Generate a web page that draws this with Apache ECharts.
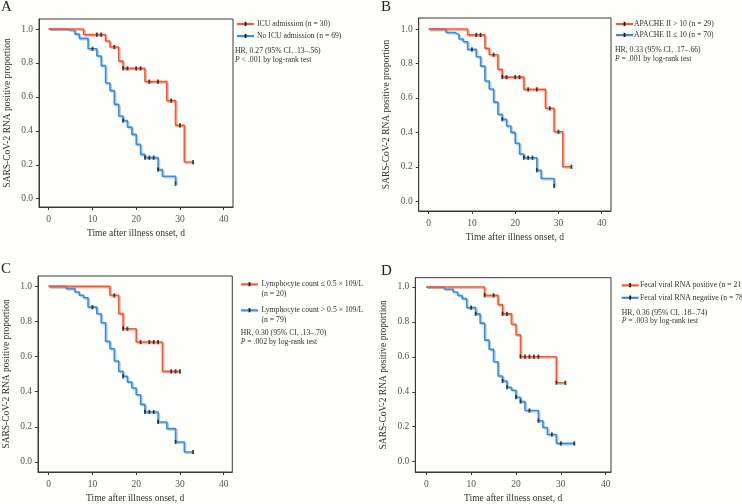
<!DOCTYPE html>
<html><head><meta charset="utf-8">
<script src="https://cdn.jsdelivr.net/npm/echarts@6/dist/echarts.min.js"></script>
<style>html,body{margin:0;padding:0;background:#fefefa}#c{width:742px;height:504px}</style>
</head><body><div id="c"></div>
<script>
// ---------- data ----------
const xTickValues = [0, 10, 20, 30, 40];
const yTickValues = [0, 0.2, 0.4, 0.6, 0.8, 1.0];
const xAxisTitle = 'Time after illness onset, d';
const yAxisTitle = 'SARS-CoV-2 RNA positive proportion';
const panelLetters = ['A', 'B', 'C', 'D'];

// Panel A
const aRedName = 'ICU admission (n = 30)';
const aRedTime = [0, 8, 13, 14, 16, 17, 22, 27, 29, 31, 33];
const aRedSurv = [1, 0.967, 0.929, 0.894, 0.811, 0.768, 0.690, 0.578, 0.432, 0.216, 0.216];
const aRedCensor = [11, 12, 15, 17, 18, 20, 21, 23, 25, 28, 30, 33];
const aBlueName = 'No ICU admission (n = 69)';
const aBlueTime = [0, 4, 6, 7, 9, 11, 12, 13, 14, 15, 16, 17, 18, 19, 20, 21, 22, 25, 26, 29];
const aBlueSurv = [1, 0.99, 0.97, 0.945, 0.884, 0.841, 0.784, 0.682, 0.637, 0.556, 0.487, 0.460, 0.422, 0.379, 0.320, 0.261, 0.242, 0.171, 0.132, 0.088];
const aBlueCensor = [10, 17, 22, 23, 24, 25, 29];
const aStats = ['HR, 0.27 (95% CI, .13–.56)', '{i|P} < .001 by log-rank test'];

// Panel B
const bRedName = 'APACHE II > 10 (n = 29)';
const bRedTime = [0, 9, 13, 14, 16, 17, 22, 27, 29, 31, 33];
const bRedSurv = [1, 0.966, 0.888, 0.851, 0.766, 0.721, 0.650, 0.540, 0.404, 0.201, 0.201];
const bRedCensor = [11, 12, 15, 17, 18, 20, 21, 23, 25, 28, 30, 33];
const bBlueName = 'APACHE II ≤ 10 (n = 70)';
const bBlueTime = [0, 4, 6, 7, 8, 9, 11, 12, 13, 14, 15, 16, 17, 18, 19, 20, 21, 22, 25, 26, 29];
const bBlueSurv = [1, 0.98, 0.969, 0.942, 0.926, 0.882, 0.839, 0.785, 0.698, 0.652, 0.576, 0.505, 0.476, 0.437, 0.400, 0.337, 0.275, 0.253, 0.180, 0.133, 0.089];
const bBlueCensor = [10, 17, 22, 23, 24, 25, 29];
const bStats = ['HR, 0.33 (95% CI, .17–.66)', '{i|P} = .001 by log-rank test'];

// Panel C
const cRedName = ['Lymphocyte count ≤ 0.5 × 109/L', '(n = 20)'];
const cRedTime = [0, 14, 16, 17, 20, 26, 30];
const cRedSurv = [1, 0.949, 0.845, 0.759, 0.683, 0.516, 0.516];
const cRedCensor = [15, 17, 18, 21, 23, 24, 25, 28, 29, 30];
const cBlueName = ['Lymphocyte count > 0.5 × 109/L', '(n = 79)'];
const cBlueTime = [0, 4, 6, 7, 8, 9, 11, 12, 13, 14, 15, 16, 17, 18, 19, 20, 21, 22, 25, 27, 29, 31, 33];
const cBlueSurv = [1, 0.987, 0.968, 0.949, 0.935, 0.882, 0.844, 0.793, 0.687, 0.645, 0.575, 0.516, 0.488, 0.455, 0.421, 0.383, 0.328, 0.285, 0.228, 0.190, 0.114, 0.057, 0.057];
const cBlueCensor = [10, 17, 22, 23, 24, 25, 29, 33];
const cStats = ['HR, 0.30 (95% CI, .13–.70)', '{i|P} = .002 by log-rank test'];

// Panel D
const dRedName = 'Fecal viral RNA positive (n = 21)';
const dRedTime = [0, 13, 16, 17, 19, 20, 21, 29, 31];
const dRedSurv = [1, 0.952, 0.899, 0.846, 0.787, 0.726, 0.601, 0.452, 0.452];
const dRedCensor = [13, 15, 17, 18, 21, 22, 23, 24, 25, 29, 31];
const dBlueName = 'Fecal viral RNA negative (n = 78)';
const dBlueTime = [0, 4, 6, 7, 8, 9, 11, 12, 13, 14, 15, 16, 17, 18, 19, 20, 21, 22, 25, 26, 27, 29, 33];
const dBlueSurv = [1, 0.987, 0.971, 0.951, 0.933, 0.882, 0.846, 0.793, 0.696, 0.643, 0.572, 0.490, 0.462, 0.426, 0.409, 0.369, 0.344, 0.293, 0.234, 0.196, 0.156, 0.105, 0.105];
const dBlueCensor = [10, 11, 17, 18, 20, 21, 23, 25, 28, 30, 33];
const dStats = ['HR, 0.36 (95% CI, .18–.74)', '{i|P} = .003 by log-rank test'];

// ---------- layout / style ----------
const RED = '#ec5b3b', RED_SH = 'rgba(240,110,80,0.5)';
const BLUE = '#3b8dd4', BLUE_SH = 'rgba(90,160,225,0.5)';
const FONT = '"Liberation Serif", "DejaVu Serif", serif';
const LEG_FS = 7.7;

const panels = [
  { grid: {left: 39, top: 19, width: 194, height: 188}, x: [-2.22, 42.13], y: [-0.049, 1.059],
    red: {t: aRedTime, s: aRedSurv, c: aRedCensor, name: [aRedName]},
    blue: {t: aBlueTime, s: aBlueSurv, c: aBlueCensor, name: [aBlueName]},
    stats: aStats, letter: [1, 8], leg: {x: 237, y1: 24, y2: 36, tx: 257, hx: 235, h1: 51, h2: 60} },
  { grid: {left: 418.7, top: 18, width: 192.3, height: 193}, x: [-2.31, 42.15], y: [-0.056, 1.064],
    red: {t: bRedTime, s: bRedSurv, c: bRedCensor, name: [bRedName]},
    blue: {t: bBlueTime, s: bBlueSurv, c: bBlueCensor, name: [bBlueName]},
    stats: bStats, letter: [381, 8], leg: {x: 616, y1: 24, y2: 35, tx: 634, hx: 615, h1: 50, h2: 59} },
  { grid: {left: 37.3, top: 276, width: 195, height: 196}, x: [-2.44, 41.96], y: [-0.057, 1.059],
    red: {t: cRedTime, s: cRedSurv, c: cRedCensor, name: cRedName},
    blue: {t: cBlueTime, s: cBlueSurv, c: cBlueCensor, name: cBlueName},
    stats: cStats, letter: [1, 270], leg: {x: 241, y1: 284.3, y2: 310.3, tx: 261.5, hx: 240.7, h1: 332.7, h2: 342} },
  { grid: {left: 415.3, top: 277.7, width: 195.7, height: 195}, x: [-2.45, 41.18], y: [-0.059, 1.053],
    red: {t: dRedTime, s: dRedSurv, c: dRedCensor, name: [dRedName]},
    blue: {t: dBlueTime, s: dBlueSurv, c: dBlueCensor, name: [dBlueName]},
    stats: dStats, letter: [381, 272], leg: {x: 621.7, y1: 285.3, y2: 297.7, tx: 640, hx: 621.7, h1: 312.7, h2: 321.3} }
];

function survAt(times, surv, t) {
  let v = surv[0];
  for (let i = 0; i < times.length; i++) if (times[i] <= t) v = surv[i];
  return v;
}

const grids = [], xAxes = [], yAxes = [], series = [], graphics = [];
panels.forEach((p, i) => {
  grids.push(Object.assign({show: true, borderColor: '#3a3a3a', borderWidth: 1, backgroundColor: 'transparent'}, p.grid));
  xAxes.push({
    type: 'value', gridIndex: i, min: p.x[0], max: p.x[1],
    name: xAxisTitle, nameLocation: 'middle', nameGap: 21,
    nameTextStyle: {fontFamily: FONT, fontSize: 9.5, color: '#333'},
    axisLine: {show: true, onZero: false, lineStyle: {color: '#3a3a3a', width: 1}},
    axisTick: {show: true, length: 3, customValues: xTickValues, lineStyle: {color: '#3a3a3a'}},
    axisLabel: {customValues: xTickValues, margin: 7, fontFamily: FONT, fontSize: 9.5, color: '#555',
                formatter: v => String(v)},
    splitLine: {show: false}
  });
  yAxes.push({
    type: 'value', gridIndex: i, min: p.y[0], max: p.y[1],
    name: yAxisTitle, nameLocation: 'middle', nameGap: 27,
    nameTextStyle: {fontFamily: FONT, fontSize: 9.5, color: '#333'},
    axisLine: {show: true, onZero: false, lineStyle: {color: '#3a3a3a', width: 1}},
    axisTick: {show: true, length: 3, customValues: yTickValues, lineStyle: {color: '#3a3a3a'}},
    axisLabel: {customValues: yTickValues, margin: 6, fontFamily: FONT, fontSize: 9.5, color: '#555',
                formatter: v => v.toFixed(1)},
    splitLine: {show: false}
  });
  [['blue', BLUE, BLUE_SH], ['red', RED, RED_SH]].forEach(([k, col, sh]) => {
    const g = p[k];
    series.push({
      type: 'line', xAxisIndex: i, yAxisIndex: i, step: 'end', showSymbol: false, symbol: 'none',
      data: g.t.map((t, j) => [t, g.s[j]]),
      lineStyle: {color: col, width: 1.6, shadowColor: sh, shadowBlur: 0, shadowOffsetX: 1.3, shadowOffsetY: 1.3},
      z: 2, silent: true
    });
    series.push({
      type: 'scatter', xAxisIndex: i, yAxisIndex: i, symbol: 'rect', symbolSize: [1.8, 4.2],
      data: g.c.map(t => [t, survAt(g.t, g.s, t)]),
      itemStyle: {color: '#1a1a1a'}, z: 3, silent: true
    });
  });
  graphics.push({type: 'text', left: p.letter[0], top: p.letter[1] - 8,
    style: {text: panelLetters[i], font: '15px ' + FONT, fill: '#222'}});
  const L = p.leg;
  [[RED, L.y1, p.red.name], [BLUE, L.y2, p.blue.name]].forEach(([col, y, nm]) => {
    graphics.push({type: 'rect', shape: {x: L.x, y: y - 1, width: 17, height: 2.2}, style: {fill: col}});
    graphics.push({type: 'rect', shape: {x: L.x + 7.6, y: y - 2.2, width: 1.8, height: 4.2}, style: {fill: '#1a1a1a'}});
    nm.forEach((line, j) => {
      graphics.push({type: 'text', x: L.tx, y: y + j * 10,
        style: {text: line, font: LEG_FS + 'px ' + FONT, fill: '#333', verticalAlign: 'middle', align: 'left'}});
    });
  });
  graphics.push({type: 'text', x: L.hx, y: L.h1,
    style: {text: p.stats[0], font: LEG_FS + 'px ' + FONT, fill: '#333', verticalAlign: 'middle', align: 'left'}});
  graphics.push({type: 'text', x: L.hx, y: L.h2,
    style: {text: p.stats[1], font: LEG_FS + 'px ' + FONT, fill: '#333', verticalAlign: 'middle', align: 'left',
      rich: {i: {fontStyle: 'italic', fontFamily: FONT, fontSize: LEG_FS, fill: '#333'}}}});
});

const chart = echarts.init(document.getElementById('c'), null, {renderer: 'canvas'});
chart.setOption({
  backgroundColor: '#fefefa',
  animation: false,
  grid: grids, xAxis: xAxes, yAxis: yAxes, series: series, graphic: graphics
});
</script></body></html>
